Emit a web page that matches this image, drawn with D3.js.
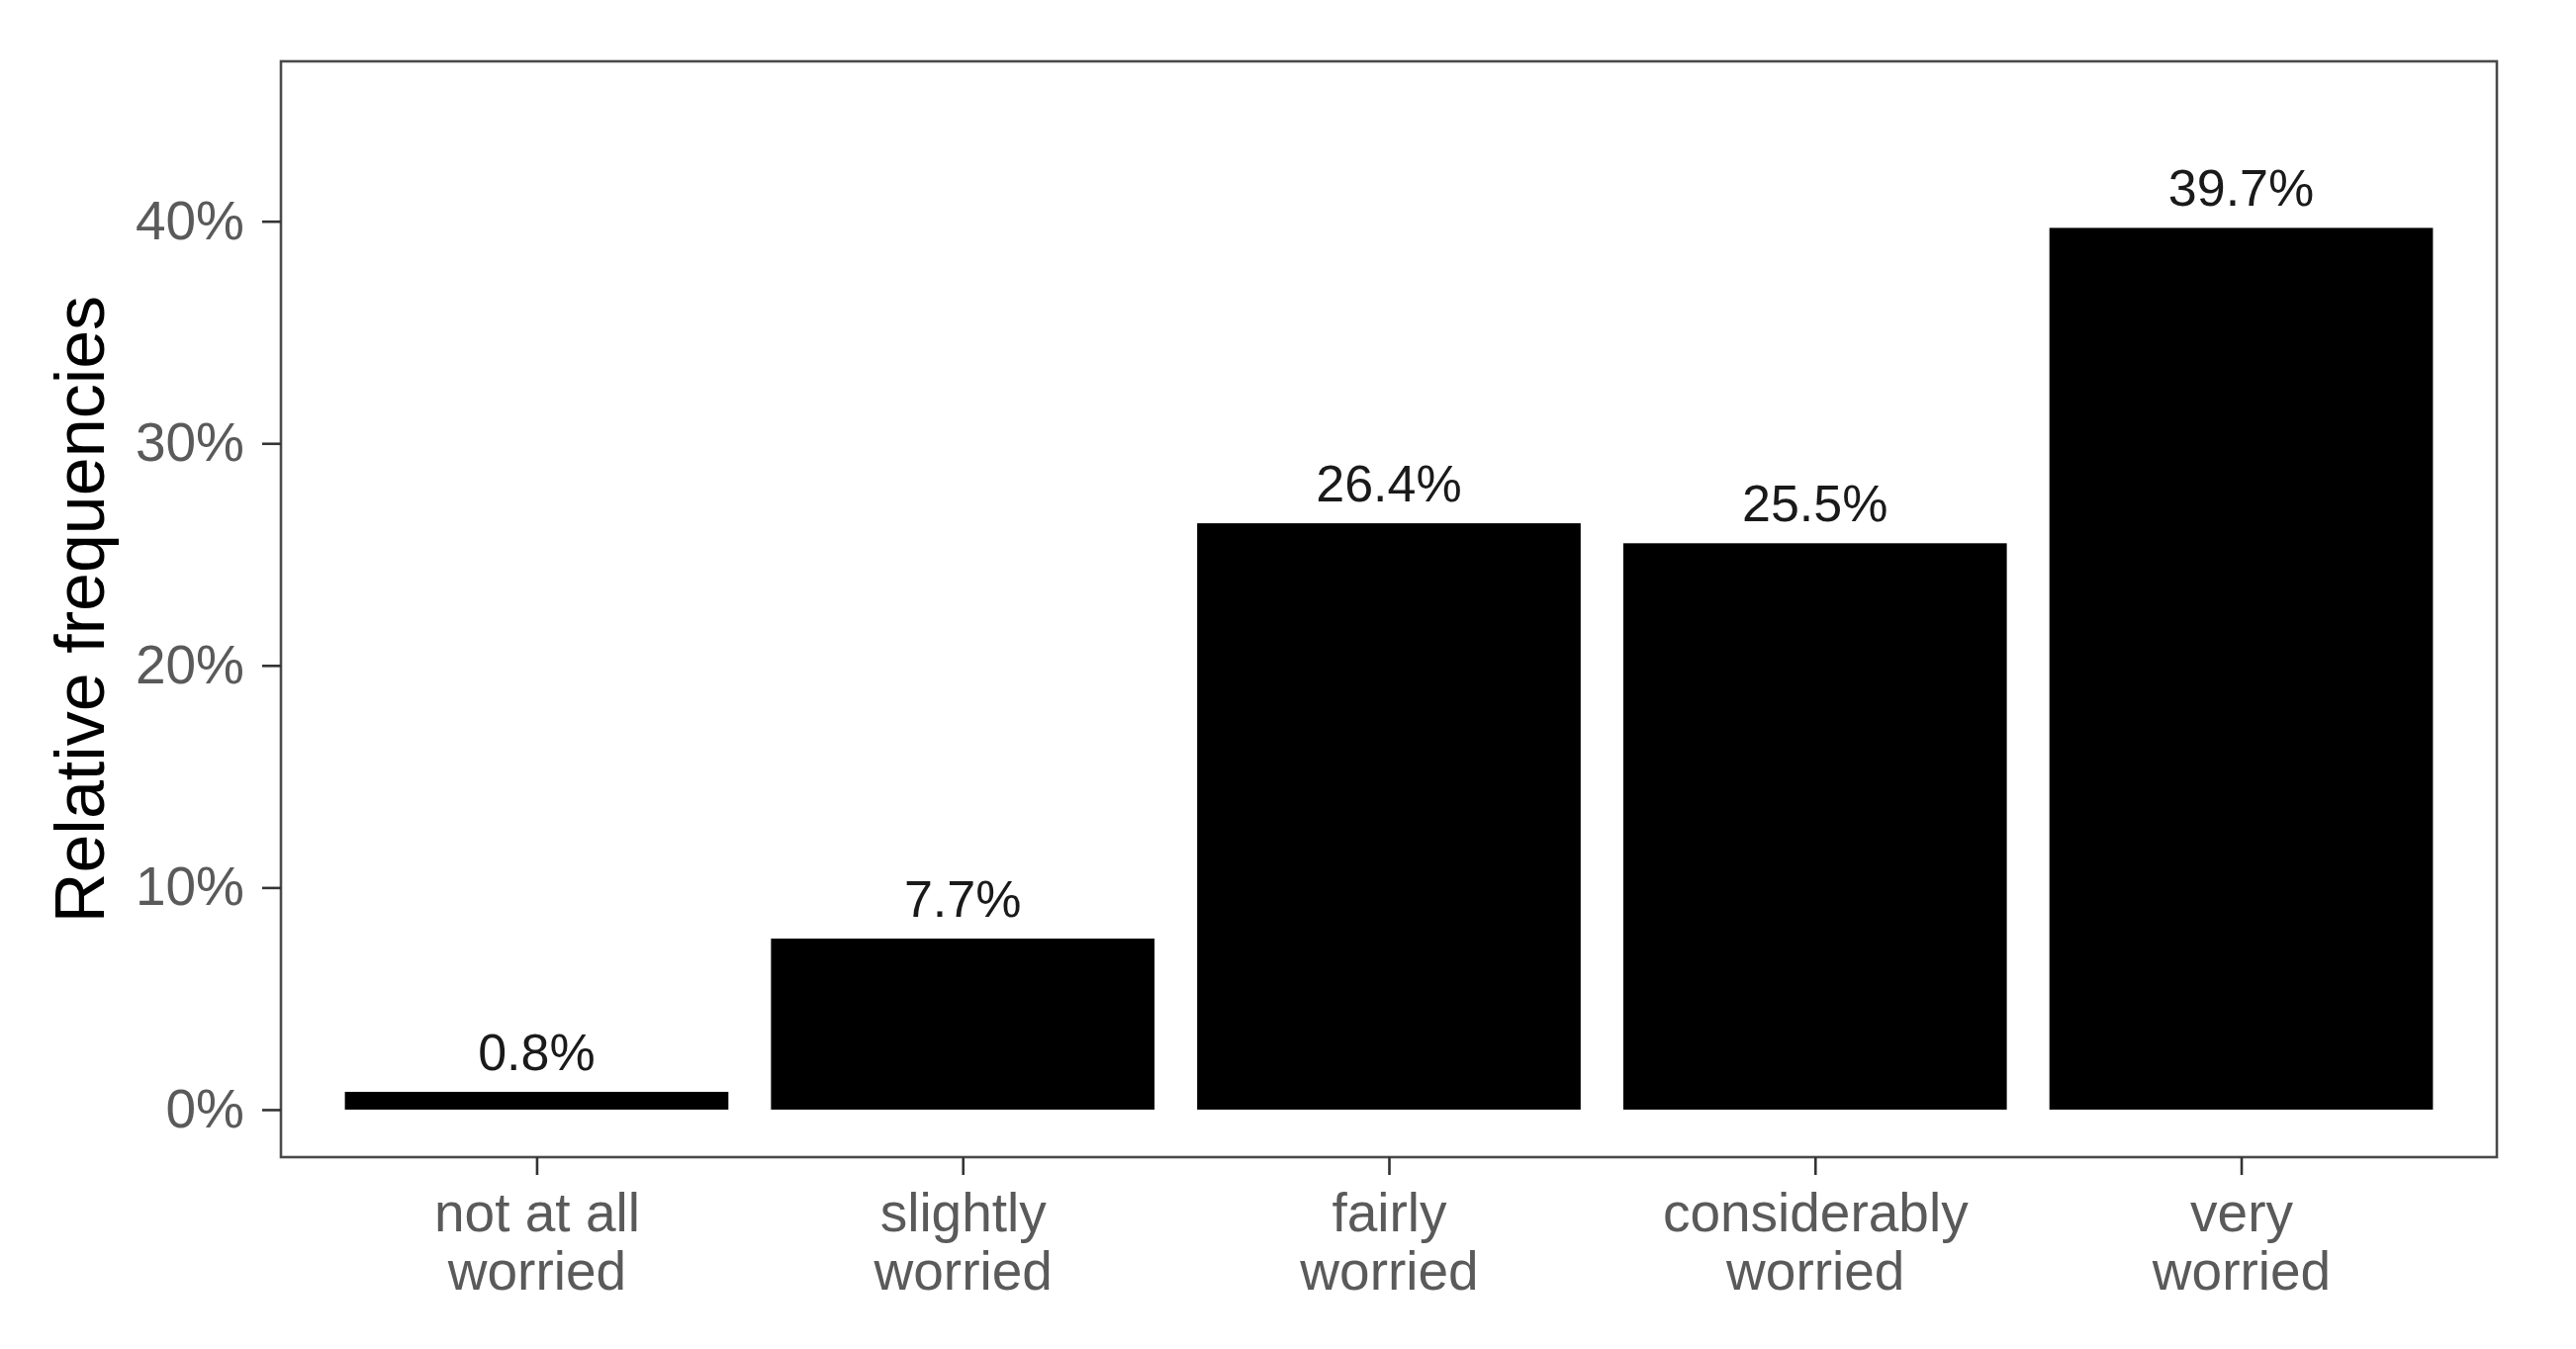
<!DOCTYPE html>
<html>
<head>
<meta charset="utf-8">
<script src="https://cdn.jsdelivr.net/npm/d3@7"></script>
<style>
  html, body { margin: 0; padding: 0; background: #ffffff; }
  svg { display: block; }
</style>
</head>
<body>
<script>
// ---- data ----
const categories = ["not at all worried", "slightly worried", "fairly worried", "considerably worried", "very worried"];
const categoryLines = [["not at all", "worried"], ["slightly", "worried"], ["fairly", "worried"], ["considerably", "worried"], ["very", "worried"]];
const values = [0.8, 7.7, 26.4, 25.5, 39.7];
const yTicks = [0, 10, 20, 30, 40];
const yTitle = "Relative frequencies";

// ---- layout ----
const W = 2604, H = 1364;
const panel = { left: 284, right: 2524, top: 62, bottom: 1170 };
const font = "'Liberation Sans', Arial, sans-serif";

const svg = d3.select("body").append("svg")
  .attr("width", W).attr("height", H)
  .style("font-family", font);

svg.append("rect").attr("width", W).attr("height", H).attr("fill", "#fff");

const x = d3.scalePoint()
  .domain(categories)
  .range([panel.left, panel.right])
  .padding(0.6);
const barW = x.step() * 0.9;

const y = d3.scaleLinear()
  .domain([-2.14, 47.2])
  .range([panel.bottom, panel.top]);

// bars
svg.append("g").selectAll("rect")
  .data(values)
  .join("rect")
  .attr("x", (d, i) => x(categories[i]) - barW / 2)
  .attr("width", barW)
  .attr("y", d => y(d))
  .attr("height", d => y(0) - y(d))
  .attr("fill", "#000");

// bar labels
svg.append("g").selectAll("text")
  .data(values)
  .join("text")
  .attr("x", (d, i) => x(categories[i]))
  .attr("y", d => y(d) - 22)
  .attr("text-anchor", "middle")
  .attr("font-size", 52)
  .attr("fill", "#1a1a1a")
  .text(d => d.toFixed(1) + "%");

// panel border
svg.append("rect")
  .attr("x", panel.left).attr("y", panel.top)
  .attr("width", panel.right - panel.left)
  .attr("height", panel.bottom - panel.top)
  .attr("fill", "none")
  .attr("stroke", "#4a4a4a")
  .attr("stroke-width", 2.6);

// y axis
const yAxis = svg.append("g")
  .attr("transform", `translate(${panel.left},0)`)
  .call(d3.axisLeft(y).tickValues(yTicks).tickSize(19).tickPadding(18).tickFormat(d => d + "%"));
yAxis.select(".domain").remove();
yAxis.selectAll(".tick line").attr("stroke", "#333").attr("stroke-width", 2.6);
yAxis.selectAll(".tick text")
  .attr("font-size", 55)
  .attr("font-family", font)
  .attr("fill", "#5a5a5a");

// x axis
const xAxis = svg.append("g")
  .attr("transform", `translate(0,${panel.bottom})`)
  .call(d3.axisBottom(x).tickSize(18).tickFormat(""));
xAxis.select(".domain").remove();
xAxis.selectAll(".tick line").attr("stroke", "#333").attr("stroke-width", 2.6);
xAxis.selectAll(".tick text").remove();
xAxis.selectAll(".tick").each(function(d, i) {
  const t = d3.select(this).append("text")
    .attr("text-anchor", "middle")
    .attr("font-size", 55)
    .attr("font-family", font)
    .attr("fill", "#5a5a5a");
  categoryLines[i].forEach((line, k) => {
    t.append("tspan").attr("x", 0).attr("y", 75 + k * 59).text(line);
  });
});

// y title
svg.append("text")
  .attr("transform", `translate(105,${(panel.top + panel.bottom) / 2}) rotate(-90)`)
  .attr("text-anchor", "middle")
  .attr("font-size", 70)
  .attr("fill", "#000")
  .text(yTitle);
</script>
</body>
</html>
